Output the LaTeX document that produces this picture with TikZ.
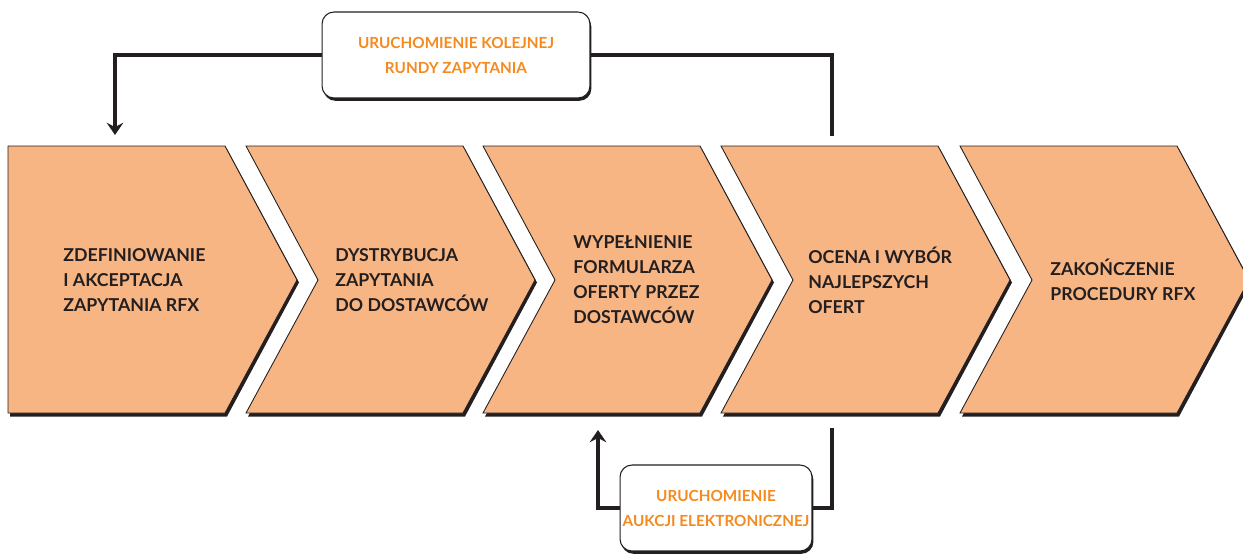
\documentclass[tikz,border=0pt]{standalone}
\usepackage{fontspec}
\setmainfont{Lato}
\usetikzlibrary{arrows.meta,shadows}

\definecolor{peach}{HTML}{F8B584}
\definecolor{ink}{HTML}{231F20}
\definecolor{accent}{HTML}{F58A1F}

\tikzset{
  steptext/.style={anchor=west, align=left, inner sep=0pt, text=ink, font=\bfseries\fontsize{10.1}{14.2}\selectfont},
  loopbox/.style={draw=ink, line width=0.6pt, fill=white, rounded corners=0.24cm,
    minimum height=1.72cm, inner xsep=1pt, align=center, text=accent,
    font=\bfseries\fontsize{8.7}{14.2}\selectfont,
    drop shadow={shadow xshift=0.8pt, shadow yshift=-1.6pt, fill=ink, opacity=1}},
  conn/.style={draw=ink, line width=2.2pt},
  tip/.style={-{Stealth[length=7pt,width=9.5pt,inset=2.5pt]}}
}

\begin{document}
\begin{tikzpicture}[x=0.02cm,y=-0.02cm]
\useasboundingbox (0,0) rectangle (1243,554);

% the five steps of the procedure

\foreach \xl/\notch in {8/0,246/72,483/72,721/72,960/72} {
\fill[ink] ({\xl+2},149) -- ({\xl+219},149) -- ({\xl+291},282.5) -- ({\xl+219},416.5) -- ({\xl+2},416.5) -- ({\xl+2+\notch},282.5) -- cycle;
\filldraw[fill=peach, draw=ink, line width=0.5pt] (\xl,146) -- ({\xl+217},146) -- ({\xl+289},280) -- ({\xl+217},413) -- (\xl,413) -- ({\xl+\notch},280) -- cycle;}

\node[steptext] (s1) at (63,280) {ZDEFINIOWANIE\\I AKCEPTACJA\\ZAPYTANIA RFX};
\node[steptext] (s2) at (335,280) {DYSTRYBUCJA\\ZAPYTANIA\\DO DOSTAWCÓW};
\node[steptext] (s3) at (573,280) {WYPEŁNIENIE\\FORMULARZA\\OFERTY PRZEZ\\DOSTAWCÓW};
\node[steptext] (s4) at (808,280) {OCENA I WYBÓR\\NAJLEPSZYCH\\OFERT};
\node[steptext] (s5) at (1050,280) {ZAKOŃCZENIE\\PROCEDURY RFX};

% the two loops back

\coordinate (in1) at (115,135);
\coordinate (out4) at (832,136);
\coordinate (in3) at (598,430);
\coordinate (low4) at (832,428);

\node[loopbox, minimum width=5.36cm] (runda) at (456,55) {URUCHOMIENIE KOLEJNEJ\\RUNDY ZAPYTANIA};
\node[loopbox, minimum width=3.84cm] (aukcja) at (716,508) {URUCHOMIENIE\\AUKCJI ELEKTRONICZNEJ};

\draw[conn] (out4) |- (runda.east);
\draw[conn,tip] (runda.west) -| (in1);
\draw[conn] (low4) |- (aukcja.east);
\draw[conn,tip] (aukcja.west) -| (in3);

\end{tikzpicture}
\end{document}
